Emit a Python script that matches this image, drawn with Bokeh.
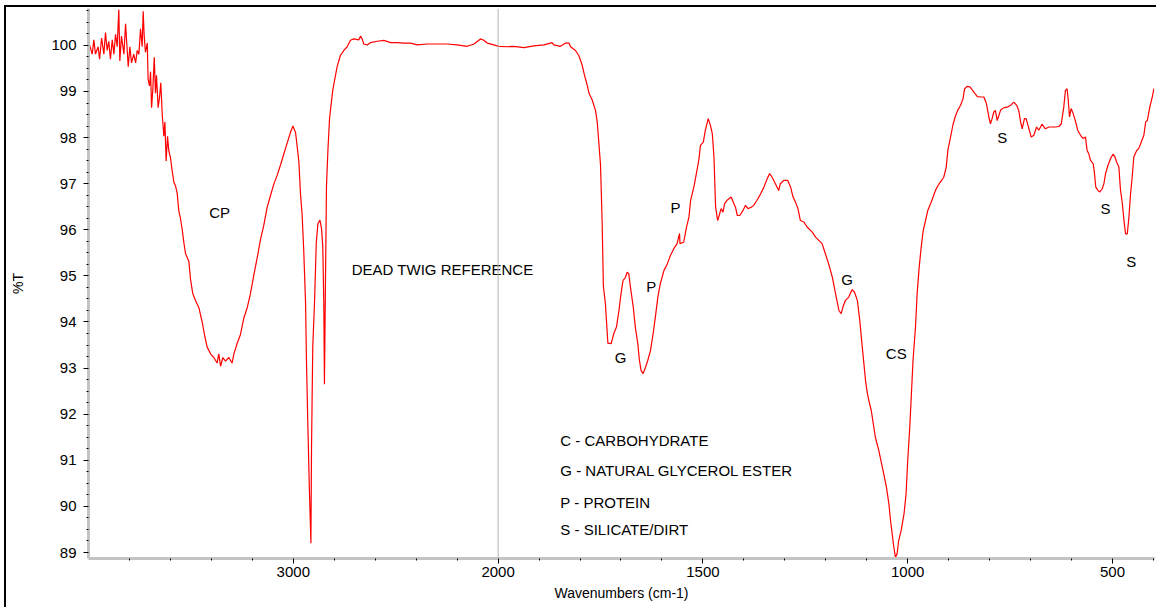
import numpy as np
from bokeh.plotting import figure
from bokeh.models import Range1d, FixedTicker, Span, ColumnDataSource
from bokeh.core.properties import value
from bokeh.embed import file_html
from bokeh.resources import INLINE

# ---------------- data ----------------
wavenumber = [
    3995, 3982, 3974, 3966, 3953, 3946, 3936, 3925, 3917, 3909, 3901, 3893, 3884, 3876, 3868, 3860,
    3852, 3847, 3839, 3827, 3819, 3811, 3806, 3798, 3790, 3779, 3770, 3762, 3754, 3746, 3738, 3733,
    3728, 3722, 3713, 3709, 3702, 3697, 3692, 3686, 3679, 3673, 3668, 3660, 3653, 3647, 3640, 3632,
    3627, 3621, 3614, 3608, 3600, 3591, 3583, 3575, 3567, 3559, 3551, 3543, 3534, 3526, 3510, 3502,
    3491, 3478, 3461, 3445, 3432, 3421, 3404, 3388, 3372, 3364, 3355, 3344, 3331, 3315, 3299, 3290,
    3274, 3258, 3242, 3225, 3209, 3193, 3176, 3160, 3144, 3128, 3111, 3095, 3079, 3062, 3046, 3030,
    3014, 3002, 2989, 2973, 2965, 2957, 2949, 2940, 2936, 2929, 2921, 2914, 2911, 2905, 2896, 2888,
    2880, 2870, 2862, 2856, 2851, 2848, 2843, 2838, 2831, 2823, 2815, 2807,
    2786, 2770, 2753, 2737, 2721, 2704, 2680, 2672, 2664, 2656, 2639, 2623, 2590, 2558, 2525, 2493,
    2460, 2428, 2395, 2346, 2298, 2249, 2200, 2151, 2118, 2086, 2070, 2053, 2021, 1998, 1978, 1962,
    1937, 1913, 1888, 1868, 1864, 1848, 1835, 1827, 1823, 1811, 1803, 1795, 1789, 1784, 1778, 1770,
    1762, 1758, 1754, 1750, 1746, 1743, 1738, 1732,
    1724, 1717.5, 1711, 1705, 1700, 1695, 1689, 1685, 1681, 1677, 1670, 1665, 1659, 1655, 1651, 1646,
    1640, 1634.5, 1628, 1621.5, 1616, 1610, 1604, 1595, 1587, 1579, 1571, 1563, 1557, 1556, 1547, 1540,
    1534, 1530, 1522, 1516, 1510, 1506, 1499, 1494, 1487, 1481.5, 1477, 1473, 1469, 1464, 1459, 1455.5,
    1451, 1447, 1441, 1431, 1424.5, 1420.5, 1416, 1410, 1402, 1396, 1390, 1382, 1376, 1368, 1359, 1351,
    1343, 1337, 1331, 1323, 1315, 1311, 1302.5, 1293, 1286, 1280, 1274, 1268, 1262, 1254, 1245.5, 1233,
    1225, 1217, 1209, 1201, 1193, 1184, 1176, 1168, 1162.5, 1158, 1152, 1144, 1136, 1130, 1123, 1117,
    1111, 1107, 1103, 1099, 1095, 1089, 1084, 1079, 1070.5, 1062, 1057, 1052, 1046, 1042, 1038, 1034,
    1030, 1026, 1022, 1016, 1009, 1004, 1000, 995, 991, 987, 981, 977, 972, 967, 962, 956.5,
    951, 944, 938, 932, 926, 920, 912, 906, 902, 895.5, 889, 883, 878, 871, 865, 861,
    855, 848, 843, 837, 830, 821, 814, 808, 802, 798, 794, 790, 786, 781.5, 777.5, 773,
    765, 757, 749, 741, 734, 729, 725, 720.5, 715, 711, 704, 698.5, 692, 685.5, 680, 672,
    664, 655, 647, 639, 631, 625, 619, 615, 611, 608, 605, 601, 596, 590, 585, 578,
    572, 566, 562, 558, 554, 547, 544, 541, 536, 531, 525, 521, 517, 511, 505, 499,
    494, 490, 484.5, 480.5, 476, 472, 468, 464, 460, 456, 452, 448, 441, 436, 430, 423.5,
    419, 415, 409, 403, 399,
]
transmittance = [
    100.01, 99.81, 100.12, 99.81, 99.97, 99.70, 100.16, 99.81, 100.28, 99.89, 100.09, 99.70, 100.12, 99.81, 100.24, 99.97,
    100.78, 99.66, 100.20, 99.81, 100.47, 99.89, 99.54, 99.97, 99.62, 99.81, 99.62, 99.89, 99.81, 100.36, 99.97, 100.74,
    100.20, 99.85, 100.05, 99.27, 99.12, 99.43, 98.65, 99.04, 99.74, 98.96, 99.35, 98.65, 98.88, 99.19, 98.50, 98.03,
    98.34, 97.49, 98.03, 97.72, 97.57, 97.26, 97.03, 96.95, 96.79, 96.41, 96.25, 96.02, 95.71, 95.48, 95.32, 94.93,
    94.62, 94.47, 94.31, 94.00, 93.69, 93.46, 93.31, 93.23, 93.11, 93.31, 93.04, 93.23, 93.15, 93.23, 93.11, 93.31,
    93.54, 93.73, 94.08, 94.31, 94.62, 95.01, 95.40, 95.79, 96.10, 96.48, 96.75, 96.99, 97.18, 97.41, 97.65, 97.88,
    98.11, 98.25, 98.11, 97.49, 96.79, 96.33, 95.55, 94.39, 93.23, 91.76, 90.29, 89.20, 91.29, 93.46, 94.47, 95.71,
    96.13, 96.21, 96.02, 95.63, 94.39, 92.65, 94.86, 96.95, 97.72, 98.42, 98.73, 99.04,
    99.54, 99.78, 99.89, 99.97, 100.11, 100.14, 100.12, 100.20, 100.14, 100.03, 100.01, 100.06, 100.09, 100.11, 100.06, 100.06,
    100.05, 100.05, 100.01, 100.03, 100.03, 100.03, 100.01, 99.98, 100.03, 100.14, 100.11, 100.05, 100.01, 99.98, 99.97, 99.98,
    99.95, 99.99, 100.01, 100.06, 100.01, 99.98, 100.05, 100.05, 99.97, 99.89, 99.78, 99.58, 99.35, 99.19, 98.96, 98.81,
    98.58, 98.34, 97.88, 97.41, 96.17, 94.78, 94.39, 93.54,
    93.53, 93.75, 93.89, 94.25, 94.61, 94.90, 94.97, 95.08, 95.05, 94.76, 94.32, 93.89, 93.53, 93.17, 92.95, 92.88,
    93.02, 93.17, 93.38, 93.75, 94.11, 94.54, 94.83, 95.12, 95.26, 95.45, 95.59, 95.70, 95.92, 95.70, 95.73, 96.06,
    96.28, 96.64, 96.93, 97.22, 97.51, 97.83, 97.90, 98.16, 98.41, 98.26, 98.08, 97.58, 96.49, 96.20, 96.35, 96.46,
    96.38, 96.57, 96.64, 96.71, 96.57, 96.49, 96.31, 96.31, 96.42, 96.53, 96.46, 96.49, 96.53, 96.64, 96.78, 96.93,
    97.11, 97.22, 97.14, 97.00, 96.85, 97.00, 97.07, 97.07, 96.93, 96.71, 96.60, 96.46, 96.20, 96.17, 96.06, 95.95,
    95.84, 95.77, 95.70, 95.48, 95.26, 94.97, 94.61, 94.25, 94.18, 94.33, 94.47, 94.54, 94.70, 94.65, 94.47, 94.03,
    93.46, 93.10, 92.73, 92.48, 92.30, 92.08, 91.79, 91.50, 91.21, 90.85, 90.64, 90.42, 90.06, 89.70, 89.41, 89.12,
    88.90, 88.97, 89.26, 89.48, 89.84, 90.27, 90.99, 91.72, 92.44, 93.17, 93.89, 94.61, 95.19, 95.63, 95.99, 96.20,
    96.42, 96.57, 96.71, 96.86, 96.96, 97.04, 97.14, 97.36, 97.72, 98.01, 98.30, 98.48, 98.59, 98.70, 98.84, 99.06,
    99.11, 99.10, 99.04, 98.97, 98.89, 98.88, 98.88, 98.74, 98.45, 98.30, 98.41, 98.55, 98.59, 98.37, 98.48, 98.60,
    98.65, 98.66, 98.70, 98.77, 98.70, 98.59, 98.37, 98.19, 98.41, 98.41, 98.19, 98.01, 98.05, 98.23, 98.16, 98.29,
    98.19, 98.23, 98.23, 98.23, 98.24, 98.30, 98.66, 99.02, 99.06, 98.81, 98.45, 98.63, 98.52, 98.34, 98.16, 98.05,
    97.98, 98.01, 97.72, 97.65, 97.51, 97.43, 97.22, 96.93, 96.86, 96.82, 96.89, 97.00, 97.22, 97.40, 97.54, 97.64,
    97.58, 97.47, 97.36, 96.86, 96.57, 96.20, 95.91, 95.91, 96.27, 96.78, 97.14, 97.58, 97.72, 97.76, 97.90, 98.05,
    98.34, 98.37, 98.66, 98.88, 99.06,
]

# peak annotations (wavenumber, %T, text)
peak_wn = [3360, 2271, 1701, 1626, 1567, 1148, 1028, 769, 517, 454]
peak_t = [96.37, 95.13, 93.24, 94.77, 96.49, 94.92, 93.32, 98.01, 96.46, 95.31]
peak_text = ["CP", "DEAD TWIG REFERENCE", "G", "P", "P", "G", "CS", "S", "S", "S"]

# key lines
key_wn = [1848, 1848, 1848, 1848]
key_t = [91.43, 90.78, 90.09, 89.49]
key_text = ["C - CARBOHYDRATE", "G - NATURAL GLYCEROL ESTER", "P - PROTEIN", "S - SILICATE/DIRT"]

# axis ticks
major_tick_wn = [3000, 2000, 1500, 1000, 500]
minor_tick_wn = [3800, 3600, 3400, 3200, 2800, 2600, 2400, 2200,
                 1900, 1800, 1700, 1600, 1400, 1300, 1200, 1100, 900, 800, 700, 600, 400]
y_major = list(range(89, 101))
y_minor = [89 + 0.25 * k for k in range(0, 48) if k % 4 != 0]

wn_start, wn_end = 4000, 397.5
t_min, t_max = 88.87, 100.80
split_wn = 2000


def to_u(w):
    """FT-IR display axis: scale doubles below 2000 cm-1."""
    w = np.asarray(w, dtype=float)
    return np.where(w >= split_wn, 4000 - w, 2000 + 2 * (2000 - w))


FONT = "Liberation Sans"

p = figure(width=1156, height=607,
           x_range=Range1d(float(to_u(wn_start)), float(to_u(wn_end))),
           y_range=Range1d(t_min, t_max),
           output_backend="svg", toolbar_location=None,
           min_border_left=88, min_border_right=2, min_border_top=8, min_border_bottom=49)
# outer black frame (left and top edges, as in the cropped original)
p.styles = {
    "background-image": "linear-gradient(#000,#000), linear-gradient(#000,#000)",
    "background-size": "2px 100%, 100% 2px",
    "background-position": "4px 5px, 4px 5px",
    "background-repeat": "no-repeat",
}
p.background_fill_color = "white"
p.border_fill_color = None
p.outline_line_color = None
p.xgrid.visible = False
p.ygrid.visible = False

# vertical divider at 2000
p.add_layout(Span(location=float(to_u(split_wn)), dimension="height",
                  line_color="#b4b4b4", line_width=1))

src = ColumnDataSource(dict(u=to_u(wavenumber), t=transmittance))
p.line("u", "t", source=src, line_color="#ff0000", line_width=1.2)

ann = ColumnDataSource(dict(u=to_u(peak_wn), t=peak_t, s=peak_text))
p.text("u", "t", text="s", source=ann, text_font=value(FONT), text_font_size="15px",
       text_color="black", text_align="center", text_baseline="middle")

key = ColumnDataSource(dict(u=to_u(key_wn), t=key_t, s=key_text))
p.text("u", "t", text="s", source=key, text_font=value(FONT), text_font_size="15px",
       text_color="black", text_align="left", text_baseline="middle")

xt = [int(v) for v in to_u(major_tick_wn)]
p.xaxis.ticker = FixedTicker(ticks=xt, minor_ticks=[int(v) for v in to_u(minor_tick_wn)])
p.xaxis.major_label_overrides = {u: str(w) for u, w in zip(xt, major_tick_wn)}
p.yaxis.ticker = FixedTicker(ticks=y_major, minor_ticks=y_minor)

for ax in (p.xaxis[0], p.yaxis[0]):
    ax.axis_line_color = "#c4c4c4"
    ax.axis_line_width = 3
    ax.major_tick_line_color = "black"
    ax.major_tick_out = 5
    ax.major_tick_in = 0
    ax.minor_tick_line_color = "black"
    ax.minor_tick_out = 2
    ax.minor_tick_in = 0
    ax.major_label_text_font = FONT
    ax.major_label_text_font_size = "15px"
    ax.major_label_text_color = "black"
    ax.axis_label_text_font = FONT
    ax.axis_label_text_font_style = "normal"
    ax.axis_label_text_font_size = "14px"
    ax.axis_label_text_color = "black"

p.xaxis.axis_label = "Wavenumbers (cm-1)"
p.xaxis.major_label_standoff = 3
p.xaxis.axis_label_standoff = 5
p.yaxis.axis_label = "%T"
p.yaxis.major_label_standoff = 7
p.yaxis.axis_label_standoff = 22

open("out.html", "w").write(file_html(p, INLINE))
